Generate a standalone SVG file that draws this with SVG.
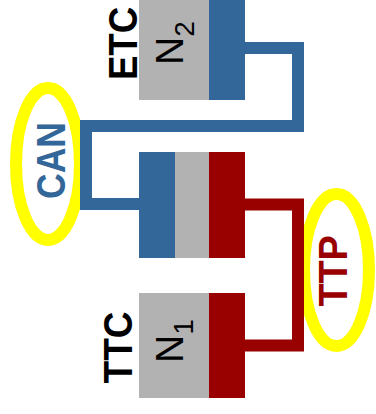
<svg xmlns="http://www.w3.org/2000/svg" width="376" height="414" viewBox="0 0 376 414">
  <style>
    .gray { fill: #b2b2b2; }
    .blue { fill: #336699; }
    .red { fill: #990000; }
    .ring { fill: none; stroke: #ffff00; stroke-width: 12; }
    .wire { fill: none; stroke-width: 12; stroke-linejoin: miter; }
    .label { font-family: "Liberation Sans", Arial, sans-serif; font-weight: bold; font-size: 37px; text-anchor: middle; }
    .sym { font-family: "Liberation Sans", Arial, sans-serif; font-size: 39px; fill: #000; }
  </style>

  <!-- yellow rings around the interface labels -->
  <g id="can">
    <ellipse class="ring" cx="48" cy="164" rx="32" ry="76"/>
    <text class="label" fill="#336699" transform="translate(65,160.5) rotate(-90) scale(0.96,1.1)">CAN</text>
  </g>
  <g id="ttp">
    <ellipse class="ring" cx="336.5" cy="270" rx="32.5" ry="76"/>
    <text class="label" fill="#990000" transform="translate(346.5,271) rotate(-90) scale(1.02,1.1)">TTP</text>
  </g>

  <!-- connectors -->
  <g id="connectors">
    <path class="wire" stroke="#336699" d="M245,48 H298 V126 H86 V204 H139"/>
    <path class="wire" stroke="#990000" d="M245,204.5 H298 V345.5 H245"/>
  </g>

  <!-- ETC cell -->
  <g id="etc">
    <rect class="gray" x="139" y="0" width="70" height="100"/>
    <rect class="blue" x="209" y="0" width="36" height="100"/>
    <text class="label" fill="#000" transform="translate(136.5,43.5) rotate(-90) scale(0.99,1.1)">ETC</text>
    <text class="sym" transform="translate(183.3,65) rotate(-90)">N<tspan font-size="28" dy="11">2</tspan></text>
  </g>

  <!-- junction cell -->
  <g id="junction">
    <rect class="blue" x="139" y="152" width="36" height="106"/>
    <rect class="gray" x="175" y="152" width="34" height="106"/>
    <rect class="red" x="209" y="152" width="36" height="106"/>
  </g>

  <!-- TTC cell -->
  <g id="ttc">
    <rect class="gray" x="139" y="293" width="70" height="105"/>
    <rect class="red" x="209" y="293" width="36" height="105"/>
    <text class="label" fill="#000" transform="translate(131.7,347.5) rotate(-90) scale(1,1.1)">TTC</text>
    <text class="sym" transform="translate(183.3,363) rotate(-90)">N<tspan font-size="28" dy="10">1</tspan></text>
  </g>
</svg>
